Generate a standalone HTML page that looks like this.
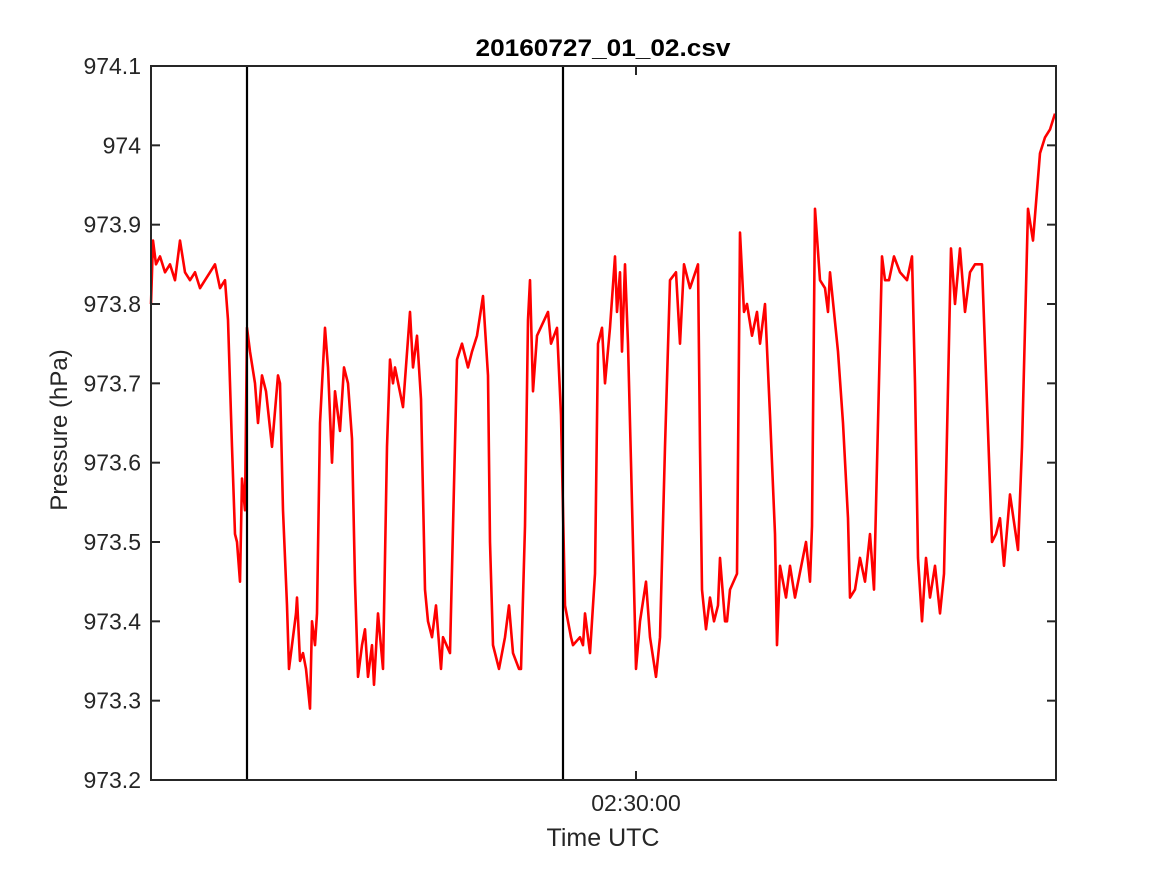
<!DOCTYPE html>
<html><head><meta charset="utf-8"><style>
html,body{margin:0;padding:0;background:#fff}
svg{display:block;font-family:"Liberation Sans",sans-serif}
</style></head><body>
<svg id="chart" width="1167" height="875" viewBox="0 0 1167 875" xmlns="http://www.w3.org/2000/svg">
<rect width="1167" height="875" fill="#fff"/>
<text x="603" y="56" text-anchor="middle" font-size="24" font-weight="bold" fill="#000" textLength="255" lengthAdjust="spacingAndGlyphs">20160727_01_02.csv</text>
<g id="marks"></g>
<g id="axes"></g>
<text x="603" y="846" text-anchor="middle" font-size="25" fill="#262626">Time UTC</text>
<text transform="translate(67,430) rotate(-90)" text-anchor="middle" font-size="24" fill="#262626">Pressure (hPa)</text>
</svg>
<script>
// seconds since 02:25:57.5 UTC
const times = [0,1,2.5,4.5,7,9.5,12,14.5,17,19.5,22,24.5,27,29.5,32,34.5,37,38.5,40.5,42,43,44.5,45.5,47,48,49.5,52,53.5,55.5,57.5,60.5,63.5,64.5,66,68,69,70.5,72.5,73,74.5,76,77.5,79.5,80.5,82,83,84.5,87,88.5,90.5,92,94.5,96.5,98.5,100.5,102,103.5,105.5,107,108.5,110.5,111.5,113.5,116,118,119.5,121,122,126,129.5,131,133,135,137,138.5,140.5,142.5,145,146,149.5,153,155.5,158.5,160.5,163,166,168.5,169.5,171,174,177,179,181,184,185,187,188.5,189.5,191,193,198.5,200,203,205,207,210,211,214.5,216,217,219.5,222,223.5,225.5,227,229.5,232,233,234.5,235.5,237,238.5,240,242.5,244.5,247.5,249.5,252.5,254.5,257,259.5,262.5,264.5,266.5,269.5,273.5,274.5,275.5,277.5,279.5,281.5,283.5,284.5,287,288,289.5,293,294.5,296.5,298,300.5,303,304.5,307,309.5,312,313,314.5,317.5,319.5,322,327.5,329.5,330.5,332,334.5,337,338.5,339.5,343.5,346,348.5,349.5,352,354.5,357,359.5,361.5,365.5,367,369,371.5,374.5,378,380.5,382,383.5,385.5,387.5,389.5,392,394.5,396.5,400,402,404.5,407,409.5,412,415.5,418.5,420.5,422.5,424.5,426.5,429.5,433.5,435.5,438.5,441,444.5,447,449.5,452];
const pressure = [973.80,973.88,973.85,973.86,973.84,973.85,973.83,973.88,973.84,973.83,973.84,973.82,973.83,973.84,973.85,973.82,973.83,973.78,973.62,973.51,973.50,973.45,973.58,973.54,973.77,973.74,973.70,973.65,973.71,973.69,973.62,973.71,973.70,973.54,973.42,973.34,973.37,973.41,973.43,973.35,973.36,973.34,973.29,973.40,973.37,973.41,973.65,973.77,973.72,973.60,973.69,973.64,973.72,973.70,973.63,973.45,973.33,973.37,973.39,973.33,973.37,973.32,973.41,973.34,973.62,973.73,973.70,973.72,973.67,973.79,973.72,973.76,973.68,973.44,973.40,973.38,973.42,973.34,973.38,973.36,973.73,973.75,973.72,973.74,973.76,973.81,973.71,973.50,973.37,973.34,973.38,973.42,973.36,973.34,973.34,973.52,973.78,973.83,973.69,973.76,973.79,973.75,973.77,973.66,973.42,973.38,973.37,973.38,973.37,973.41,973.36,973.46,973.75,973.77,973.70,973.77,973.86,973.79,973.84,973.74,973.85,973.75,973.60,973.34,973.40,973.45,973.38,973.33,973.38,973.62,973.83,973.84,973.75,973.85,973.82,973.85,973.62,973.44,973.39,973.43,973.40,973.42,973.48,973.40,973.40,973.44,973.46,973.89,973.79,973.80,973.76,973.79,973.75,973.80,973.66,973.51,973.37,973.47,973.43,973.47,973.43,973.50,973.45,973.52,973.92,973.83,973.82,973.79,973.84,973.74,973.65,973.53,973.43,973.44,973.48,973.45,973.51,973.44,973.86,973.83,973.83,973.86,973.84,973.83,973.86,973.70,973.48,973.40,973.48,973.43,973.47,973.41,973.46,973.87,973.80,973.87,973.79,973.84,973.85,973.85,973.64,973.50,973.51,973.53,973.47,973.56,973.49,973.62,973.92,973.88,973.99,974.01,974.02,974.04];
const yTicks = [973.2,973.3,973.4,973.5,973.6,973.7,973.8,973.9,974,974.1];
const yTickLabels = ["973.2","973.3","973.4","973.5","973.6","973.7","973.8","973.9","974","974.1"];
const xTicks = [242.5];
const xTickLabels = ["02:30:00"];
const markerTimes = [48, 206];

const X0=151,X1=1056,Y0=780,Y1=66;
const tMin=0,tMax=452.5,pMin=973.2,pMax=974.1;
const xs=t=>X0+(t-tMin)/(tMax-tMin)*(X1-X0);
const ys=p=>Y0-(p-pMin)/(pMax-pMin)*(Y0-Y1);
const NS="http://www.w3.org/2000/svg";
const marks=document.getElementById('marks'), axes=document.getElementById('axes');
function mk(tag,attrs,parent){const e=document.createElementNS(NS,tag);for(const k in attrs)e.setAttribute(k,attrs[k]);parent.appendChild(e);return e;}

let d='';
times.forEach((t,i)=>{d+=(i?'L':'M')+xs(t).toFixed(2)+' '+ys(pressure[i]).toFixed(2);});
const line=mk('path',{d:d,fill:'none',stroke:'#ff0000','stroke-width':2.6,'stroke-linejoin':'round'},marks);



markerTimes.forEach((t,i)=>{
  const l=mk('line',{x1:xs(t),x2:xs(t),y1:Y1,y2:Y0,stroke:'#000','stroke-width':2.2},marks);
  
  
});

const box=mk('rect',{x:X0,y:Y1,width:X1-X0,height:Y0-Y1,fill:'none',stroke:'#262626','stroke-width':2},axes);



yTicks.forEach((v,i)=>{
  const y=ys(v);
  mk('line',{x1:X0,x2:X0+9,y1:y,y2:y,stroke:'#262626','stroke-width':2},axes);
  mk('line',{x1:X1,x2:X1-9,y1:y,y2:y,stroke:'#262626','stroke-width':2},axes);
  const tx=mk('text',{x:141,y:y+8,'text-anchor':'end','font-size':23,fill:'#262626'},axes);
  tx.textContent=yTickLabels[i];
  
  
});
xTicks.forEach((v,i)=>{
  const x=xs(v);
  mk('line',{x1:x,x2:x,y1:Y0,y2:Y0-9,stroke:'#262626','stroke-width':2},axes);
  mk('line',{x1:x,x2:x,y1:Y1,y2:Y1+9,stroke:'#262626','stroke-width':2},axes);
  const tx=mk('text',{x:x,y:811,'text-anchor':'middle','font-size':23,fill:'#262626'},axes);
  tx.textContent=xTickLabels[i];
  
  
});
</script>
</body></html>
